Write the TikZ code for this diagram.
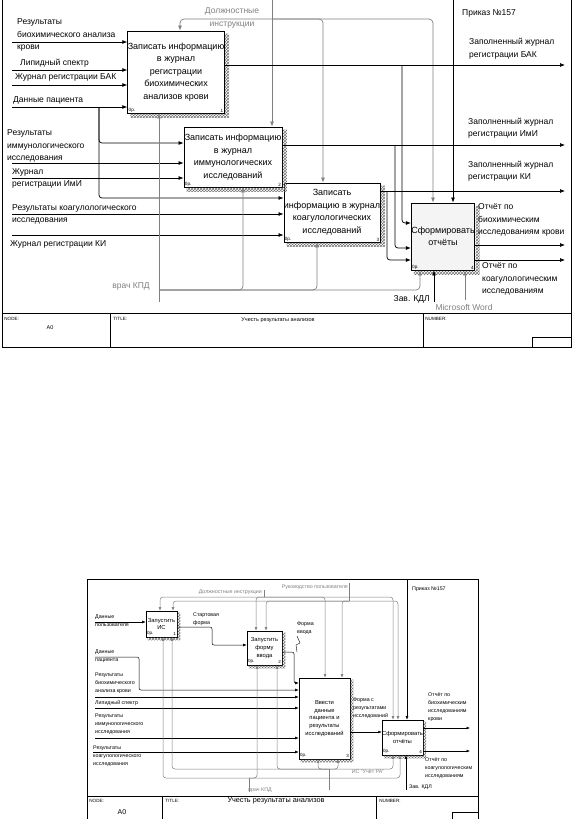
\documentclass[tikz,border=0pt]{standalone}
\usepackage{fontspec}
\setmainfont{Liberation Sans}
\usetikzlibrary{arrows.meta,patterns,calc}
\definecolor{IDGray}{RGB}{128,128,128}
\definecolor{IDFill}{RGB}{244,244,244}

\begin{document}
\begin{tikzpicture}[x=1pt,y=-1pt,
  box/.style={draw,line width=0.9pt,fill=white,align=center,inner sep=0pt,
              font=\fontsize{9}{12.5}\selectfont},
  sbox/.style={draw,line width=0.6pt,fill=white,align=center,inner sep=0pt,
              font=\fontsize{5.8}{7.6}\selectfont},
  lab/.style={anchor=west,align=left,inner sep=0pt,font=\fontsize{8.5}{12.5}\selectfont},
  glab/.style={lab,text=IDGray},
  slab/.style={anchor=west,align=left,inner sep=0pt,font=\fontsize{5.3}{8}\selectfont},
  gslab/.style={slab,text=IDGray},
  arr/.style={-{Latex[length=5pt,width=4pt]},line width=0.7pt},
  garr/.style={arr,draw=IDGray,rounded corners=4pt},
  sarr/.style={-{Latex[length=3.5pt,width=2.8pt]},line width=0.5pt},
  gsarr/.style={sarr,draw=IDGray,rounded corners=3pt},
  tiny/.style={inner sep=1.2pt,font=\fontsize{4.6}{5}\selectfont},
  hatch/.style={pattern=crosshatch,pattern color=black!55},
]
\useasboundingbox (0,0) rectangle (575,819);

% ---------- upper diagram: frame and title bar
\draw[line width=0.9pt] (2,0) -- (2,347) -- (571,347) -- (571,0);
\draw[line width=0.6pt] (2,313) -- (571,313);
\draw[line width=0.6pt] (110,313) -- (110,347);
\draw[line width=0.6pt] (423,313) -- (423,347);
\draw[line width=0.6pt] (532,347) -- (532,337) -- (571,337);
\node[tiny,anchor=north west] (nodeA) at (3,316) {NODE:};
\node[tiny,font=\fontsize{5.5}{6}\selectfont] (numA) at (50,328) {A0};
\node[tiny,anchor=north west] (titleA) at (112,316) {TITLE:};
\node[tiny,font=\fontsize{5.5}{6}\selectfont] (nameA) at (278,320) {Учесть результаты анализов};
\node[tiny,anchor=north west] (numbA) at (424,316) {NUMBER:};

% ---------- upper diagram: activities
\node[box,minimum width=92,minimum height=82] (b1) at (176,72)
  {Записать информацию\\в журнал\\регистрации\\биохимических\\анализов крови};
\node[box,minimum width=98,minimum height=60] (b2) at (233,157)
  {Записать информацию\\в журнал\\иммунологических\\исследований};
\node[box,minimum width=90,minimum height=59] (b3) at (332,212.5)
  {Записать\\информацию в журнал\\коагулологических\\исследований};
\node[box,fill=IDFill,minimum width=60,minimum height=67] (b4) at (443,236.5)
  {Сформировать\\отчёты};
\foreach \b/\n in {b1/1,b2/2,b3/3,b4/4}{
  \fill[hatch]
    ([shift={(0.5,3)}]\b.north east) -- ([shift={(4.5,3)}]\b.north east)
    -- ([shift={(4.5,4.5)}]\b.south east) -- ([shift={(3,4.5)}]\b.south west)
    -- ([shift={(3,0.5)}]\b.south west) -- ([shift={(0.5,0.5)}]\b.south east) -- cycle;
  \node[tiny,anchor=south west] at (\b.south west) {0р.};
  \node[tiny,anchor=south east] at (\b.south east) {\n};
}

% ---------- upper diagram: inputs
\coordinate (iBAK) at (12,42);
\coordinate (iLip) at (12,70);
\coordinate (iJBAK) at (12,85);
\coordinate (iPat) at (12,107);
\coordinate (jPat) at (99,107);
\coordinate (iImm) at (12,163);
\coordinate (iJImm) at (12,178);
\coordinate (iCoag) at (12,214);
\coordinate (iJKI) at (12,235);
\draw[arr] (iBAK) -- (iBAK -| b1.west);
\draw[arr] (iLip) -- (iLip -| b1.west);
\draw[arr] (iJBAK) -- (iJBAK -| b1.west);
\draw[arr] (iPat) -- (iPat -| b1.west);
\draw[arr,rounded corners=3pt] (jPat) |- (b2.west |- 0,143);
\draw[arr,rounded corners=3pt] (jPat) |- (b3.west |- 0,198);
\draw[arr] (iImm) -- (iImm -| b2.west);
\draw[arr] (iJImm) -- (iJImm -| b2.west);
\draw[arr] (iCoag) -- (iCoag -| b3.west);
\draw[arr] (iJKI) -- (iJKI -| b3.west);
\node[lab] at (17,35) {Результаты\\биохимического анализа\\крови};
\node[lab] at (20,63) {Липидный спектр};
\node[lab] at (15,77) {Журнал регистрации БАК};
\node[lab] at (13,100) {Данные пациента};
\node[lab] at (7,146) {Результаты\\иммунологического\\исследования};
\node[lab] at (12,178.5) {Журнал\\регистрации ИмИ};
\node[lab] at (12,214.5) {Результаты коагулологического\\исследования};
\node[lab] at (10,244) {Журнал регистрации КИ};

% ---------- upper diagram: controls
\coordinate (cDI) at (272,0);
\coordinate (jDI) at (272,19);
\draw[garr] (cDI) -- (cDI |- b2.north);
\draw[garr] (jDI) -| (b1.north -| 180,0);
\draw[garr] (jDI) -| (b3.north -| 323,0);
\draw[garr] (jDI) -| (b4.north -| 433,0);
\node[glab,anchor=center,align=center] at (232,18) {Должностные\\инструкции};
\coordinate (cOrd) at (453,0);
\draw[arr] (cOrd) -- (cOrd |- b4.north);
\node[lab] at (462,13) {Приказ №157};

% ---------- upper diagram: outputs
\coordinate (oBAK) at (565,65);
\coordinate (jBAK) at (402,65);
\coordinate (oImm) at (565,145);
\coordinate (jImm) at (395,145);
\coordinate (oKI) at (565,191);
\coordinate (jKI) at (387,191);
\coordinate (oRepB) at (565,245);
\coordinate (oRepK) at (565,260);
\draw[arr] (b1.east |- oBAK) -- (oBAK);
\draw[arr] (b2.east |- oImm) -- (oImm);
\draw[arr] (b3.east |- oKI) -- (oKI);
\draw[arr,rounded corners=3pt] (jBAK) |- (b4.west |- 0,223);
\draw[arr,rounded corners=3pt] (jImm) |- (b4.west |- 0,248);
\draw[arr,rounded corners=3pt] (jKI) |- (b4.west |- 0,260);
\draw[arr] (b4.east |- oRepB) -- (oRepB);
\draw[arr] (b4.east |- oRepK) -- (oRepK);
\node[lab] at (469,48.5) {Заполненный журнал\\регистрации БАК};
\node[lab] at (468,128) {Заполненный журнал\\регистрации ИмИ};
\node[lab] at (468,171) {Заполненный журнал\\регистрации КИ};
\node[lab] at (478,220) {Отчёт по\\биохимическим\\исследованиям крови};
\node[lab] at (482,279) {Отчёт по\\коагулологическим\\исследованиям};

% ---------- upper diagram: mechanisms
\coordinate (mDoc) at (159,302);
\coordinate (jDoc) at (159,290);
\draw[garr] (mDoc) -- (mDoc |- b1.south);
\draw[garr] (jDoc) -| (b2.south -| 243,0);
\draw[garr] (jDoc) -| (b3.south -| 317,0);
\draw[garr] (jDoc) -| (b4.south -| 420,0);
\node[glab,anchor=center] at (131,286) {врач КПД};
\coordinate (mHead) at (434,302);
\draw[arr] (mHead) -- (mHead |- b4.south);
\node[lab,anchor=east] at (430,299) {Зав. КДЛ};
\coordinate (mMSW) at (465,300);
\draw[garr] (mMSW) -- (mMSW |- b4.south);
\node[glab,anchor=center] at (464,307) {Microsoft Word};

% ---------- lower diagram: frame and title bar
\draw[line width=0.6pt] (87,819) -- (87,579) -- (478,579) -- (478,819);
\draw[line width=0.5pt] (87,796) -- (478,796);
\draw[line width=0.5pt] (162,796) -- (162,819);
\draw[line width=0.5pt] (376,796) -- (376,819);
\draw[line width=0.5pt] (452,819) -- (452,812) -- (478,812);
\node[tiny,anchor=north west] (nodeB) at (88,798) {NODE:};
\node[tiny,font=\fontsize{7}{8}\selectfont] (numB) at (122,812) {A0};
\node[tiny,anchor=north west] (titleB) at (164,798) {TITLE:};
\node[tiny,font=\fontsize{7.3}{8}\selectfont] (nameB) at (276,801) {Учесть результаты анализов};
\node[tiny,anchor=north west] (numbB) at (378,798) {NUMBER:};

% ---------- lower diagram: activities
\node[sbox,minimum width=31,minimum height=26] (bb1) at (161.5,624) {Запустить\\ИС};
\node[sbox,minimum width=35,minimum height=34] (bb2) at (264.5,648) {Запустить\\форму\\ввода};
\node[sbox,minimum width=51,minimum height=81] (bb3) at (324.5,718.5)
  {Ввести\\данные\\пациента и\\результаты\\исследований};
\node[sbox,minimum width=39,minimum height=35] (bb4) at (402.5,737.5) {Сформировать\\отчёты};
\foreach \b/\n in {bb1/1,bb2/2,bb3/3,bb4/4}{
  \fill[hatch]
    ([shift={(0.4,2)}]\b.north east) -- ([shift={(3,2)}]\b.north east)
    -- ([shift={(3,3)}]\b.south east) -- ([shift={(2,3)}]\b.south west)
    -- ([shift={(2,0.4)}]\b.south west) -- ([shift={(0.4,0.4)}]\b.south east) -- cycle;
  \node[tiny,anchor=south west,font=\fontsize{4.5}{5}\selectfont] at (\b.south west) {0р.};
  \node[tiny,anchor=south east,font=\fontsize{4.5}{5}\selectfont] at (\b.south east) {\n};
}

% ---------- lower diagram: inputs
\coordinate (iUsr) at (95,622);
\coordinate (iPat2) at (95,657);
\coordinate (iBAK2) at (95,697);
\coordinate (iLip2) at (95,708);
\coordinate (iImm2) at (95,738);
\coordinate (iCoag2) at (93,752);
\draw[sarr] (iUsr) -- (iUsr -| bb1.west);
\draw[sarr,rounded corners=2pt] (iPat2) -- (139,657) |- (bb3.west |- 0,690);
\draw[sarr] (iBAK2) -- (iBAK2 -| bb3.west);
\draw[sarr] (iLip2) -- (iLip2 -| bb3.west);
\draw[sarr] (iImm2) -- (iImm2 -| bb3.west);
\draw[sarr] (iCoag2) -- (iCoag2 -| bb3.west);
\node[slab] at (95,621) {Данные\\пользователя};
\node[slab] at (95,656) {Данные\\пациента};
\node[slab] at (95,683.5) {Результаты\\биохимического\\анализа крови};
\node[slab] at (95,703) {Липидный спектр};
\node[slab] at (95,724.5) {Результаты\\иммунологического\\исследования};
\node[slab] at (93,756) {Результаты\\коагулологического\\исследования};

% ---------- lower diagram: controls
\coordinate (cDI2) at (264,590);
\coordinate (jDI2) at (264,597);
\coordinate (cRP) at (349,583);
\coordinate (jRP) at (349,601);
\draw[draw=IDGray,line width=0.5pt] (cDI2) -- (jDI2);
\draw[draw=IDGray,line width=0.5pt] (cRP) -- (jRP);
\draw[gsarr] (jDI2) -| (bb1.north -| 160,0);
\draw[gsarr] (jDI2) -| (bb2.north -| 256,0);
\draw[gsarr] (jDI2) -| (bb3.north -| 325,0);
\draw[gsarr] (jDI2) -| (bb4.north -| 393,0);
\draw[gsarr] (jRP) -| (bb1.north -| 173,0);
\draw[gsarr] (jRP) -| (bb2.north -| 266,0);
\draw[gsarr] (jRP) -| (bb3.north -| 342,0);
\draw[gsarr] (jRP) -| (bb4.north -| 398,0);
\node[gslab,anchor=east] at (262,592) {Должностные инструкции};
\node[gslab,anchor=east] at (348,587) {Руководство пользователя};
\coordinate (cOrd2) at (407,580);
\draw[sarr] (cOrd2) -- (cOrd2 |- bb4.north);
\node[slab] at (412,589) {Приказ №157};

% ---------- lower diagram: outputs
\coordinate (oRB2) at (470,728);
\coordinate (oRK2) at (470,751);
\draw[sarr,rounded corners=2pt] (bb1.east |- 0,627) -- (212,627) |- (bb2.west |- 0,645);
\draw[sarr,rounded corners=2pt] (bb2.east |- 0,652) -- (294,652) |- (bb3.west |- 0,683);
\draw[sarr] (bb3.east |- 0,732) -- (bb4.west |- 0,732);
\draw[sarr] (bb4.east |- oRB2) -- (oRB2);
\draw[sarr] (bb4.east |- oRK2) -- (oRK2);
\draw[line width=0.4pt] (297,636) -- (300,643) -- (296,645) -- (297,652);
\node[slab] at (193,619) {Стартовая\\форма};
\node[slab] at (297,628) {Форма\\ввода};
\node[slab] at (353,708.5) {Форма с\\результатами\\исследований};
\node[slab] at (428,707.5) {Отчёт по\\биохимическим\\исследованиям\\крови};
\node[slab] at (425,768) {Отчёт по\\коагулологическим\\исследованиям};

% ---------- lower diagram: mechanisms
\coordinate (mIS) at (329,790);
\coordinate (jIS) at (329,769);
\draw[draw=IDGray,line width=0.5pt] (mIS) -- (jIS);
\draw[gsarr] (jIS) -| (bb1.south -| 172,0);
\draw[gsarr] (jIS) -| (bb2.south -| 277,0);
\draw[gsarr] (jIS) -| (bb3.south -| 318,0);
\draw[gsarr] (jIS) -| (bb3.south -| 338,0);
\draw[gsarr] (jIS) -| (bb4.south -| 393,0);
\node[gslab,anchor=center] at (368,772) {ИС "Учёт РА"};
\coordinate (mDoc2) at (249,792);
\coordinate (jDoc2) at (249,778);
\draw[draw=IDGray,line width=0.5pt] (mDoc2) -- (jDoc2);
\draw[gsarr] (jDoc2) -| (bb1.south -| 163,0);
\draw[gsarr] (jDoc2) -| (bb2.south -| 257,0);
\draw[gsarr] (jDoc2) -| (bb4.south -| 400,0);
\node[gslab,anchor=center] at (260,790) {врач КПД};
\coordinate (mHead2) at (406,790);
\draw[sarr] (mHead2) -- (mHead2 |- bb4.south);
\node[slab] at (409,787) {Зав. КДЛ};
\end{tikzpicture}
\end{document}
